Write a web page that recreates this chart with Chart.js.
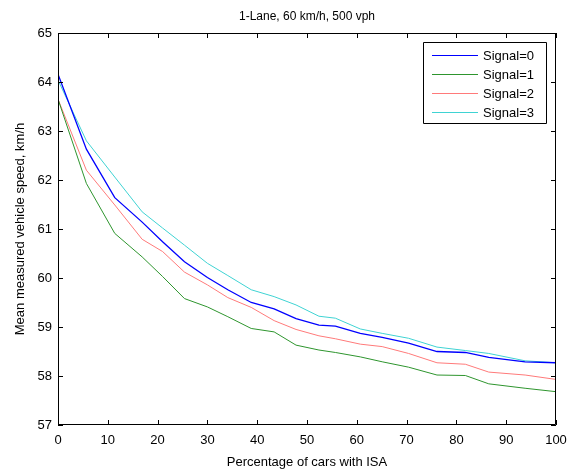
<!DOCTYPE html>
<html>
<head>
<meta charset="utf-8">
<script src="https://cdn.jsdelivr.net/npm/chart.js@4/dist/chart.umd.min.js"></script>
<style>
  html, body { margin: 0; padding: 0; background: #fff; }
  canvas { display: block; }
</style>
</head>
<body>
<canvas id="speedChart" width="569" height="470"></canvas>
<script>
// ISA普及率 (%)
const isaPct = [0, 5.7, 11.4, 16.9, 21.0, 25.4, 30.0, 34.1, 38.8, 43.4, 47.8, 52.4, 55.7, 60.7, 65.1, 70.4, 76.1, 81.8, 86.5, 93.8, 100];

// 平均速度 km/h（Signal別）
const signal0 = [64.16, 62.63, 61.64, 61.14, 60.74, 60.33, 60.01, 59.76, 59.50, 59.37, 59.17, 59.04, 59.02, 58.87, 58.79, 58.67, 58.50, 58.48, 58.38, 58.29, 58.27];
const signal1 = [63.65, 61.93, 60.91, 60.43, 60.03, 59.58, 59.41, 59.21, 58.97, 58.90, 58.63, 58.53, 58.48, 58.39, 58.29, 58.18, 58.02, 58.01, 57.84, 57.75, 57.68];
const signal2 = [63.65, 62.20, 61.49, 60.79, 60.54, 60.12, 59.86, 59.60, 59.40, 59.13, 58.95, 58.82, 58.76, 58.65, 58.60, 58.46, 58.27, 58.24, 58.08, 58.02, 57.93];
const signal3 = [64.04, 62.80, 62.06, 61.35, 61.02, 60.67, 60.30, 60.05, 59.76, 59.62, 59.45, 59.22, 59.18, 58.96, 58.87, 58.77, 58.59, 58.52, 58.46, 58.31, 58.27];

const seriesLabels = ['Signal=0', 'Signal=1', 'Signal=2', 'Signal=3'];
const seriesColors = ['#0000ff', '#2e952e', '#ff7a7a', '#3fd3d3'];
const seriesValues = [signal0, signal1, signal2, signal3];

const titleText = '1-Lane, 60 km/h, 500 vph';
const xTitle = 'Percentage of cars with ISA';
const yTitle = 'Mean measured vehicle speed, km/h';

const FONT = 'Arial, "Liberation Sans", sans-serif';

// x,y のペアに変換
function toPoints(values) {
    return values.map((v, i) => ({ x: isaPct[i], y: v }));
}

// MATLAB風の枠・内向き目盛・凡例・タイトルを描く
const matlabFrame = {
    id: 'matlabFrame',
    afterDraw(chart) {
        const ctx = chart.ctx;
        const a = chart.chartArea;
        const xs = chart.scales.x;
        const ys = chart.scales.y;
        const tl = 5;

        ctx.save();
        ctx.strokeStyle = '#000';
        ctx.lineWidth = 1;
        ctx.beginPath();
        ctx.rect(a.left + 0.5, a.top + 0.5, a.right - a.left - 1, a.bottom - a.top - 1);
        ctx.stroke();

        ctx.beginPath();
        xs.ticks.forEach(t => {
            const px = Math.round(xs.getPixelForValue(t.value)) + 0.5;
            ctx.moveTo(px, a.bottom); ctx.lineTo(px, a.bottom - tl);
            ctx.moveTo(px, a.top); ctx.lineTo(px, a.top + tl);
        });
        ys.ticks.forEach(t => {
            const py = Math.round(ys.getPixelForValue(t.value)) + 0.5;
            ctx.moveTo(a.left, py); ctx.lineTo(a.left + tl, py);
            ctx.moveTo(a.right, py); ctx.lineTo(a.right - tl, py);
        });
        ctx.stroke();

        // タイトル
        ctx.fillStyle = '#000';
        ctx.font = '12px ' + FONT;
        ctx.textAlign = 'center';
        ctx.textBaseline = 'middle';
        ctx.fillText(titleText, (a.left + a.right) / 2, 17);

        // 凡例（右上）
        const bx = 423, by = 42, bw = 123, bh = 81;
        ctx.fillStyle = '#fff';
        ctx.fillRect(bx, by, bw, bh);
        ctx.beginPath();
        ctx.rect(bx + 0.5, by + 0.5, bw, bh);
        ctx.stroke();
        ctx.font = '13px ' + FONT;
        ctx.textAlign = 'left';
        chart.data.datasets.forEach((ds, i) => {
            const ry = by + 13 + i * 19;
            ctx.strokeStyle = ds.borderColor;
            ctx.lineWidth = 1;
            ctx.beginPath();
            ctx.moveTo(bx + 9, ry + 0.5);
            ctx.lineTo(bx + 55, ry + 0.5);
            ctx.stroke();
            ctx.fillStyle = '#000';
            ctx.fillText(ds.label, bx + 60, ry + 1);
        });
        ctx.restore();
    }
};

const ctx = document.getElementById('speedChart').getContext('2d');
window.myChart = new Chart(ctx, {
    type: 'line',
    data: {
        datasets: seriesValues.map((vals, i) => ({
            label: seriesLabels[i],
            data: toPoints(vals),
            borderColor: seriesColors[i],
            borderWidth: i === 0 ? 1.3 : 1,
            pointRadius: 0,
            tension: 0,
            fill: false
        }))
    },
    options: {
        responsive: false,
        animation: false,
        devicePixelRatio: 1,
        layout: { padding: { left: 0, top: 33, right: 13, bottom: 0 } },
        plugins: {
            legend: { display: false },
            title: { display: false },
            tooltip: { enabled: false }
        },
        scales: {
            x: {
                type: 'linear',
                min: 0,
                max: 100,
                ticks: {
                    stepSize: 10,
                    color: '#000',
                    font: { family: FONT, size: 13 },
                    padding: 8,
                    maxRotation: 0
                },
                grid: { display: false, drawTicks: false },
                border: { display: false },
                title: {
                    display: true,
                    text: xTitle,
                    color: '#000',
                    font: { family: FONT, size: 13 },
                    padding: { top: 6, bottom: 0 }
                },
                afterFit(scale) {
                    scale.height = 45;
                    scale.paddingRight = 0;
                    scale.paddingLeft = 0;
                }
            },
            y: {
                type: 'linear',
                min: 57,
                max: 65,
                ticks: {
                    stepSize: 1,
                    color: '#000',
                    font: { family: FONT, size: 13 },
                    padding: 6
                },
                grid: { display: false, drawTicks: false },
                border: { display: false },
                title: {
                    display: true,
                    text: yTitle,
                    color: '#000',
                    font: { family: FONT, size: 13 },
                    padding: { top: 13, bottom: 0 }
                },
                afterFit(scale) {
                    scale.width = 58;
                    scale.paddingTop = 0;
                    scale.paddingBottom = 0;
                }
            }
        }
    },
    plugins: [matlabFrame]
});
</script>
</body>
</html>
